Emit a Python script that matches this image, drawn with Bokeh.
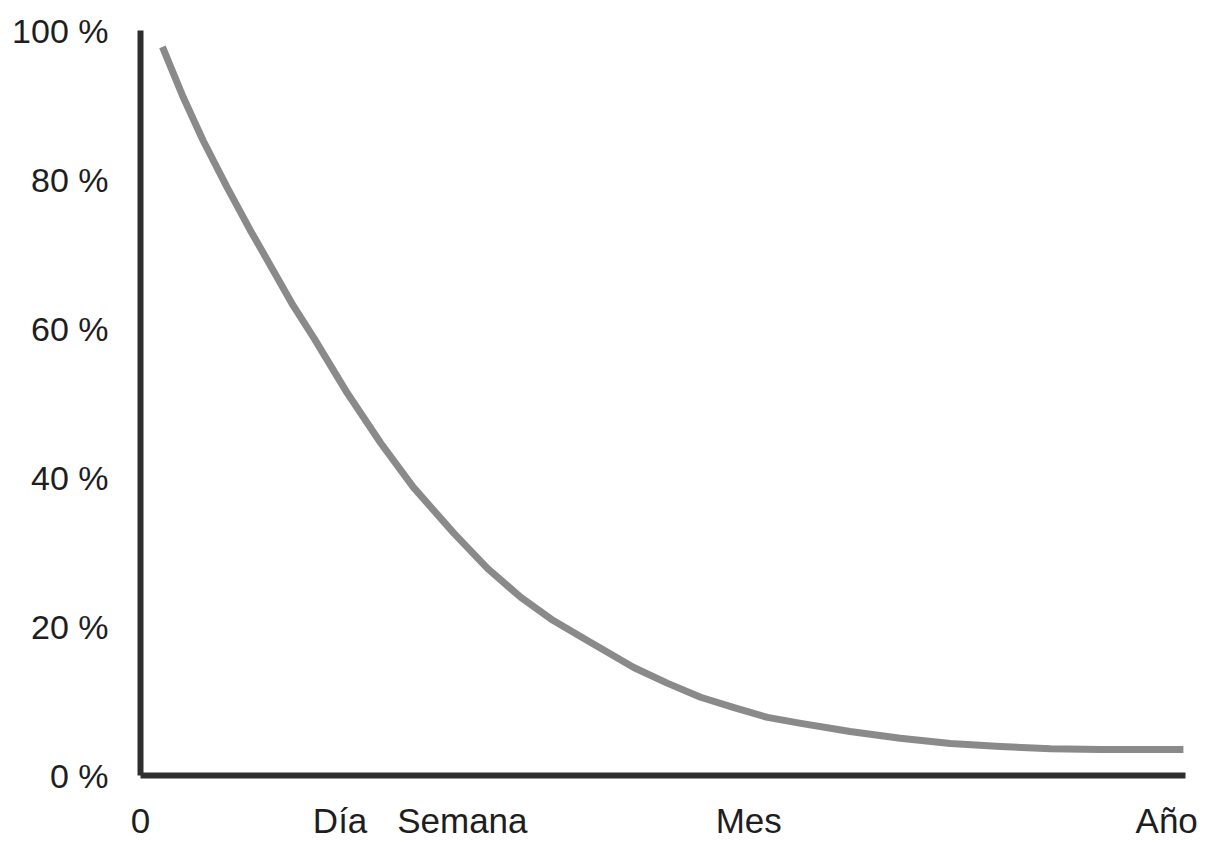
from bokeh.plotting import figure
from bokeh.models import FixedTicker, Range1d
from bokeh.embed import file_html
from bokeh.resources import INLINE

# Forgetting curve: retained memory (%) over time (abstract time scale 0-100)
x_time = [2.1, 4.1, 6.0, 8.3, 10.5, 12.7, 14.6, 16.6, 19.8, 23.0, 26.1, 30.0, 33.2,
          36.4, 39.5, 42.8, 47.2, 50.4, 53.6, 56.8, 60.0, 63.2, 67.9, 72.7, 77.5,
          82.3, 87.1, 91.9, 99.8]
retention = [97.8, 91.0, 85.2, 78.9, 73.2, 67.8, 63.1, 58.7, 51.3, 44.6, 38.7, 32.5,
             27.8, 23.9, 20.8, 18.1, 14.5, 12.4, 10.5, 9.1, 7.8, 7.0, 5.9, 5.0, 4.3,
             3.9, 3.6, 3.5, 3.5]

x_tick_pos = [0, 19.1, 30.8, 58.2, 98.2]
x_tick_labels = ["0", "Día", "Semana", "Mes", "Año"]
y_tick_pos = [0, 20, 40, 60, 80, 100]
y_tick_labels = ["0 %", "20 %", "40 %", "60 %", "80 %", "100 %"]

p = figure(width=1208, height=842, output_backend="svg", toolbar_location=None,
           x_range=Range1d(0, 100), y_range=Range1d(0, 100),
           min_border_left=140, min_border_right=23, min_border_top=30,
           min_border_bottom=67)
p.outline_line_color = None
p.grid.grid_line_color = None
p.background_fill_color = "white"

p.line(x_time, retention, line_color="#8a8a8a", line_width=7, line_join="round")

font = "Liberation Sans"
for ax in (p.xaxis[0], p.yaxis[0]):
    ax.axis_line_color = "#2e2e2e"
    ax.axis_line_width = 6
    ax.major_tick_line_color = None
    ax.minor_tick_line_color = None
    ax.major_tick_out = 0
    ax.major_tick_in = 0
    ax.major_label_text_font = font
    ax.major_label_text_color = "#1e1e1e"

p.xaxis[0].ticker = FixedTicker(ticks=x_tick_pos)
p.xaxis[0].major_label_overrides = {k: v for k, v in zip(x_tick_pos, x_tick_labels)}
p.xaxis[0].major_label_text_font_size = "35px"
p.xaxis[0].major_label_standoff = 25

p.yaxis[0].ticker = FixedTicker(ticks=y_tick_pos)
p.yaxis[0].major_label_overrides = {k: v for k, v in zip(y_tick_pos, y_tick_labels)}
p.yaxis[0].major_label_text_font_size = "34px"
p.yaxis[0].major_label_standoff = 32

open("out.html", "w").write(file_html(p, INLINE))
